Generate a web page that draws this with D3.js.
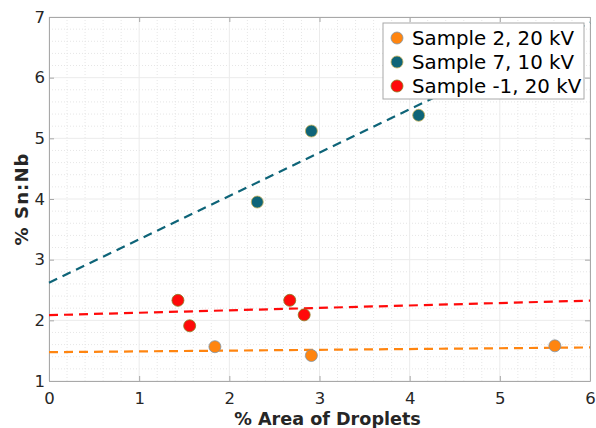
<!DOCTYPE html>
<html>
<head>
<meta charset="utf-8">
<script src="https://cdn.jsdelivr.net/npm/d3@7"></script>
<style>
  body { margin: 0; background: #fff; }
  svg { font-family: "DejaVu Sans", Verdana, sans-serif; }
</style>
</head>
<body>
<svg id="chart" width="596" height="428"></svg>
<script>
// series
var seriesNames = ["Sample 2, 20 kV", "Sample 7, 10 kV", "Sample -1, 20 kV"];
var seriesColors = ["#ff8510", "#0e6478", "#ff0a0a"];
var seriesEdges = ["#7f95a8", "#c8b25a", "#8a7a20"];

var sample2X = [1.84, 2.91, 5.61];
var sample2Y = [1.565, 1.42, 1.58];
var sample7X = [2.31, 2.91, 4.10];
var sample7Y = [3.95, 5.12, 5.38];
var sampleM1X = [1.43, 1.56, 2.67, 2.83];
var sampleM1Y = [2.33, 1.91, 2.33, 2.09];

// linear fits (intercept, slope)
var fitIntercepts = [1.475, 2.62, 2.085];
var fitSlopes = [0.013, 0.715, 0.04];

var xTicks = [0, 1, 2, 3, 4, 5, 6];
var yTicks = [1, 2, 3, 4, 5, 6, 7];

var svg = d3.select("#chart");
var margin = { top: 17, right: 6, bottom: 47, left: 49 };
var width = 596 - margin.left - margin.right,
    height = 428 - margin.top - margin.bottom;

var x = d3.scaleLinear().domain([0, 6]).range([0, width]),
    y = d3.scaleLinear().domain([1, 7]).range([height, 0]);

var g = svg.append("g")
  .attr("transform", "translate(" + margin.left + "," + margin.top + ")");

// minor grid
var minorX = d3.range(0, 6.001, 0.2).filter(function(d) { return Math.abs(d - Math.round(d)) > 1e-6; });
var minorY = d3.range(1, 7.001, 0.2).filter(function(d) { return Math.abs(d - Math.round(d)) > 1e-6; });

g.append("g").selectAll("line").data(minorX).enter().append("line")
  .attr("x1", function(d) { return x(d); }).attr("x2", function(d) { return x(d); })
  .attr("y1", 0).attr("y2", height)
  .attr("stroke", "#e6e6e6").attr("stroke-dasharray", "1,2").attr("stroke-width", 1);
g.append("g").selectAll("line").data(minorY).enter().append("line")
  .attr("y1", function(d) { return y(d); }).attr("y2", function(d) { return y(d); })
  .attr("x1", 0).attr("x2", width)
  .attr("stroke", "#e6e6e6").attr("stroke-dasharray", "1,2").attr("stroke-width", 1);

// major grid
g.append("g").selectAll("line").data(xTicks).enter().append("line")
  .attr("x1", function(d) { return x(d); }).attr("x2", function(d) { return x(d); })
  .attr("y1", 0).attr("y2", height)
  .attr("stroke", "#ebebeb").attr("stroke-width", 1);
g.append("g").selectAll("line").data(yTicks).enter().append("line")
  .attr("y1", function(d) { return y(d); }).attr("y2", function(d) { return y(d); })
  .attr("x1", 0).attr("x2", width)
  .attr("stroke", "#ebebeb").attr("stroke-width", 1);

// axes
g.append("g")
  .attr("transform", "translate(0," + height + ")")
  .call(d3.axisBottom(x).tickValues(xTicks).tickFormat(d3.format("d")).tickSizeInner(-5).tickSizeOuter(0).tickPadding(11));
g.append("g")
  .call(d3.axisLeft(y).tickValues(yTicks).tickFormat(d3.format("d")).tickSizeInner(-5).tickSizeOuter(0).tickPadding(4));
g.append("g")
  .call(d3.axisTop(x).tickValues(xTicks).tickFormat("").tickSizeInner(-5).tickSizeOuter(0));
g.append("g")
  .attr("transform", "translate(" + width + ",0)")
  .call(d3.axisRight(y).tickValues(yTicks).tickFormat("").tickSizeInner(-5).tickSizeOuter(0));

g.selectAll(".domain").attr("stroke", "#a8a8a8");
g.selectAll(".tick line").attr("stroke", "#a8a8a8");
g.selectAll(".tick text").attr("fill", "#262626").attr("font-size", 16.5)
  .attr("font-family", "DejaVu Sans, Verdana, sans-serif");

// axis titles
g.append("text")
  .attr("x", width / 2 + 8).attr("y", height + 44)
  .attr("text-anchor", "middle")
  .attr("font-size", 17.6).attr("font-weight", "bold").attr("fill", "#262626")
  .text("% Area of Droplets");
g.append("text")
  .attr("transform", "rotate(-90)")
  .attr("x", -182.5).attr("y", -21)
  .attr("text-anchor", "middle")
  .attr("font-size", 18).attr("font-weight", "bold").attr("fill", "#262626")
  .attr("textLength", 92).attr("lengthAdjust", "spacing")
  .text("% Sn:Nb");

// fit lines
var line = d3.line()
  .x(function(d) { return x(d[0]); })
  .y(function(d) { return y(d[1]); });

fitIntercepts.forEach(function(b, i) {
  var m = fitSlopes[i];
  g.append("path")
    .datum([[0, b], [6, b + m * 6]])
    .attr("fill", "none")
    .attr("stroke", seriesColors[i])
    .attr("stroke-width", 2.2)
    .attr("stroke-dasharray", "9,6")
    .attr("d", line);
});

// points
var pointSets = [
  d3.zip(sample2X, sample2Y),
  d3.zip(sample7X, sample7Y),
  d3.zip(sampleM1X, sampleM1Y)
];

pointSets.forEach(function(pts, i) {
  g.append("g").selectAll("circle").data(pts).enter().append("circle")
    .attr("cx", function(d) { return x(d[0]); })
    .attr("cy", function(d) { return y(d[1]); })
    .attr("r", 6)
    .attr("fill", seriesColors[i])
    .attr("stroke", seriesEdges[i])
    .attr("stroke-width", 0.8);
});

// legend
var legend = g.append("g")
  .attr("transform", "translate(" + (383 - margin.left) + "," + (23 - margin.top) + ")");
legend.append("rect")
  .attr("width", 201).attr("height", 76)
  .attr("fill", "#fff").attr("stroke", "#a8a8a8").attr("stroke-width", 1);

seriesNames.forEach(function(name, i) {
  var row = legend.append("g").attr("transform", "translate(0," + (15 + i * 24) + ")");
  row.append("circle")
    .attr("cx", 14).attr("cy", 0).attr("r", 6)
    .attr("fill", seriesColors[i])
    .attr("stroke", seriesEdges[i]).attr("stroke-width", 0.8);
  row.append("text")
    .attr("x", 29).attr("y", 0).attr("dy", "0.36em")
    .attr("font-size", 19.8).attr("fill", "#000")
    .text(name);
});
</script>
</body>
</html>
